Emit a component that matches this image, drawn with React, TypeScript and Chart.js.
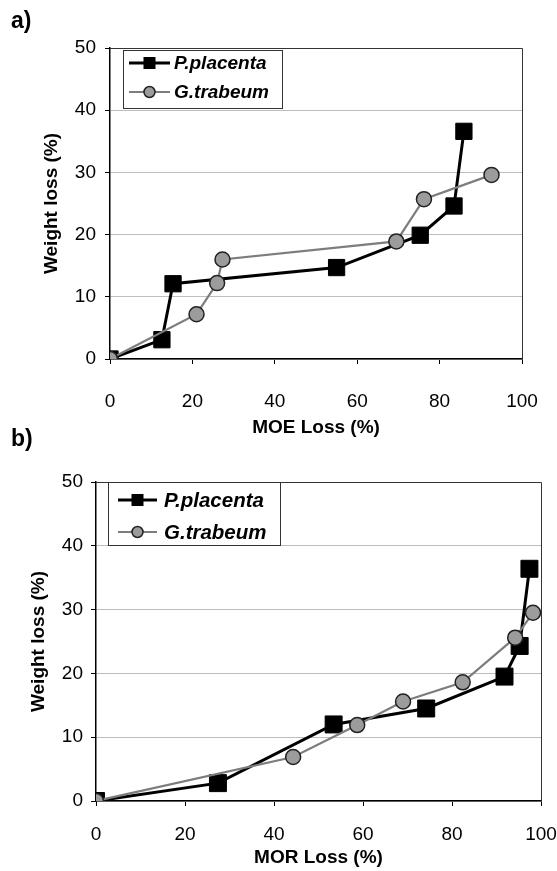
import { useEffect, useRef } from "react";
import { Chart, registerables } from "chart.js";

Chart.register(...registerables);

const FONT = "'Liberation Sans', Arial, Helvetica, sans-serif";
const W = 557;
const H = 871;

// ---- data ----
const seriesNames = ["P.placenta", "G.trabeum"];
const xTickValues = [0, 20, 40, 60, 80, 100];
const yTickValues = [0, 10, 20, 30, 40, 50];

// panel a) MOE loss vs weight loss
const moePlacentaX = [0, 12.6, 15.3, 55.0, 75.3, 83.5, 85.9];
const moePlacentaY = [0, 3.1, 12.1, 14.7, 19.9, 24.6, 36.6];
const moeTrabeumX = [0, 21.0, 26.0, 27.3, 69.5, 76.2, 92.6];
const moeTrabeumY = [0, 7.2, 12.2, 16.0, 18.9, 25.7, 29.6];

// panel b) MOR loss vs weight loss
const morPlacentaX = [0, 27.4, 53.4, 74.2, 91.8, 95.2, 97.4];
const morPlacentaY = [0, 2.8, 12.0, 14.5, 19.5, 24.3, 36.4];
const morTrabeumX = [0, 44.3, 58.7, 69.0, 82.4, 94.2, 98.2];
const morTrabeumY = [0, 6.9, 11.9, 15.6, 18.6, 25.6, 29.5];

const yTitle = "Weight loss (%)";

type Box = {
  left: number;
  right: number;
  top: number;
  bottom: number;
  xTickPad: number;
  xTitleCenter: number;
  yTickPad: number;
  yTitleCenter: number;
  squareRadius: number;
  legend: {
    x: number;
    y: number;
    w: number;
    h: number;
    rows: number[];
    lx0: number;
    lx1: number;
    tx: number;
    fontSize: number;
  };
};

const frame = {
  id: "frame",
  beforeDatasetsDraw(chart: any) {
    const { ctx, chartArea: a } = chart;
    ctx.save();
    ctx.strokeStyle = "#333";
    ctx.lineWidth = 1;
    ctx.beginPath();
    ctx.moveTo(a.left, a.top + 0.5);
    ctx.lineTo(a.right + 0.5, a.top + 0.5);
    ctx.lineTo(a.right + 0.5, a.bottom);
    ctx.stroke();
    ctx.restore();
  },
};

const insetLegend = {
  id: "insetLegend",
  afterDraw(chart: any, _args: any, o: any) {
    if (!o || !o.box) return;
    const { ctx } = chart;
    const b = o.box;
    ctx.save();
    ctx.fillStyle = "#fff";
    ctx.fillRect(b.x, b.y, b.w, b.h);
    ctx.strokeStyle = "#333";
    ctx.lineWidth = 1;
    ctx.strokeRect(b.x + 0.5, b.y + 0.5, b.w, b.h);
    chart.data.datasets.forEach((ds: any, i: number) => {
      const ry = b.rows[i];
      ctx.strokeStyle = ds.borderColor;
      ctx.lineWidth = ds.borderWidth;
      ctx.beginPath();
      ctx.moveTo(b.lx0, ry);
      ctx.lineTo(b.lx1, ry);
      ctx.stroke();
      const cx = (b.lx0 + b.lx1) / 2;
      if (ds.pointStyle === "rect") {
        ctx.fillStyle = ds.pointBackgroundColor;
        ctx.fillRect(cx - 6, ry - 6, 12, 12);
      } else {
        ctx.beginPath();
        ctx.arc(cx, ry, 5.5, 0, Math.PI * 2);
        ctx.fillStyle = ds.pointBackgroundColor;
        ctx.fill();
        ctx.strokeStyle = ds.pointBorderColor;
        ctx.lineWidth = 1.5;
        ctx.stroke();
      }
      ctx.fillStyle = "#000";
      ctx.font = `italic bold ${b.fontSize}px ${FONT}`;
      ctx.textAlign = "left";
      ctx.textBaseline = "middle";
      ctx.fillText(ds.label, b.tx, ry + 1);
    });
    ctx.restore();
  },
};

function makeChart(
  canvas: HTMLCanvasElement,
  box: Box,
  xTitle: string,
  px: number[],
  py: number[],
  tx: number[],
  ty: number[]
) {
  const lh = 19 * 1.2;
  const xBottom = box.xTitleCenter + lh / 2;
  const xHeight = xBottom - box.bottom;
  return new Chart(canvas, {
    type: "scatter",
    data: {
      datasets: [
        {
          label: seriesNames[0],
          data: px.map((x, i) => ({ x, y: py[i] })),
          showLine: true,
          borderColor: "#000",
          borderWidth: 3,
          pointStyle: "rect",
          pointRadius: box.squareRadius,
          pointBackgroundColor: "#000",
          pointBorderColor: "#000",
          pointBorderWidth: 1,
          order: 2,
        },
        {
          label: seriesNames[1],
          data: tx.map((x, i) => ({ x, y: ty[i] })),
          showLine: true,
          borderColor: "#7d7d7d",
          borderWidth: 2.2,
          pointStyle: "circle",
          pointRadius: 7.5,
          pointBackgroundColor: "#9c9c9c",
          pointBorderColor: "#222",
          pointBorderWidth: 1.5,
          order: 1,
        },
      ] as any,
    },
    options: {
      animation: false,
      responsive: false,
      devicePixelRatio: 1,
      events: [],
      layout: {
        padding: { left: 0, top: box.top, right: W - box.right, bottom: H - xBottom },
      },
      plugins: {
        legend: { display: false },
        tooltip: { enabled: false },
        insetLegend: { box: box.legend },
      } as any,
      scales: {
        x: {
          type: "linear",
          min: 0,
          max: 100,
          afterBuildTicks: (s: any) => {
            s.ticks = xTickValues.map((v) => ({ value: v }));
          },
          ticks: {
            font: { size: 19, family: FONT },
            color: "#000",
            padding: box.xTickPad,
            maxRotation: 0,
            autoSkip: false,
          },
          grid: { drawOnChartArea: false, drawTicks: true, tickLength: 5, color: "#000", lineWidth: 1 },
          border: { display: true, color: "#000", width: 1.5 },
          title: {
            display: true,
            text: xTitle,
            font: { size: 19, weight: "bold", family: FONT },
            color: "#000",
            padding: { top: 0, bottom: 0 },
          },
          afterFit: (s: any) => {
            s.height = xHeight;
            s.paddingLeft = 0;
            s.paddingRight = 0;
          },
        },
        y: {
          type: "linear",
          min: 0,
          max: 50,
          afterBuildTicks: (s: any) => {
            s.ticks = yTickValues.map((v) => ({ value: v }));
          },
          ticks: {
            font: { size: 19, family: FONT },
            color: "#000",
            padding: box.yTickPad,
            autoSkip: false,
          },
          grid: { color: "#bdbdbd", lineWidth: 1, tickLength: 5, tickColor: "#000" },
          border: { display: true, color: "#000", width: 1.5 },
          title: {
            display: true,
            text: yTitle,
            font: { size: 19, weight: "bold", family: FONT },
            color: "#000",
            padding: { top: box.yTitleCenter - lh / 2, bottom: 0 },
          },
          afterFit: (s: any) => {
            s.width = box.left;
            s.paddingTop = 0;
            s.paddingBottom = 0;
          },
        },
      } as any,
    },
    plugins: [frame, insetLegend],
  });
}

const boxA: Box = {
  left: 110,
  right: 522,
  top: 48,
  bottom: 359,
  xTickPad: 26,
  xTitleCenter: 428,
  yTickPad: 9,
  yTitleCenter: 52,
  squareRadius: 11.5,
  legend: { x: 123, y: 50, w: 159, h: 58, rows: [63, 92], lx0: 129, lx1: 170, tx: 174, fontSize: 19 },
};

const boxB: Box = {
  left: 96,
  right: 541,
  top: 482,
  bottom: 801,
  xTickPad: 17,
  xTitleCenter: 858,
  yTickPad: 8,
  yTitleCenter: 39,
  squareRadius: 12,
  legend: { x: 108, y: 482, w: 172, h: 63, rows: [500, 532], lx0: 118, lx1: 157, tx: 164, fontSize: 20.5 },
};

export default function App() {
  const refA = useRef<HTMLCanvasElement>(null);
  const refB = useRef<HTMLCanvasElement>(null);

  useEffect(() => {
    const a = makeChart(refA.current!, boxA, "MOE Loss (%)", moePlacentaX, moePlacentaY, moeTrabeumX, moeTrabeumY);
    const b = makeChart(refB.current!, boxB, "MOR Loss (%)", morPlacentaX, morPlacentaY, morTrabeumX, morTrabeumY);
    return () => {
      a.destroy();
      b.destroy();
    };
  }, []);

  const canvasStyle: React.CSSProperties = { position: "absolute", left: 0, top: 0, width: W, height: H };
  const labelStyle: React.CSSProperties = {
    position: "absolute",
    left: 11,
    fontFamily: FONT,
    fontWeight: "bold",
    fontSize: 23,
    lineHeight: "23px",
    color: "#000",
  };

  return (
    <div style={{ position: "absolute", left: 0, top: 0, width: W, height: H, background: "#fff", overflow: "hidden" }}>
      <canvas ref={refA} width={W} height={H} style={canvasStyle} />
      <canvas ref={refB} width={W} height={H} style={canvasStyle} />
      <div style={{ ...labelStyle, top: 9 }}>a)</div>
      <div style={{ ...labelStyle, top: 427 }}>b)</div>
    </div>
  );
}
